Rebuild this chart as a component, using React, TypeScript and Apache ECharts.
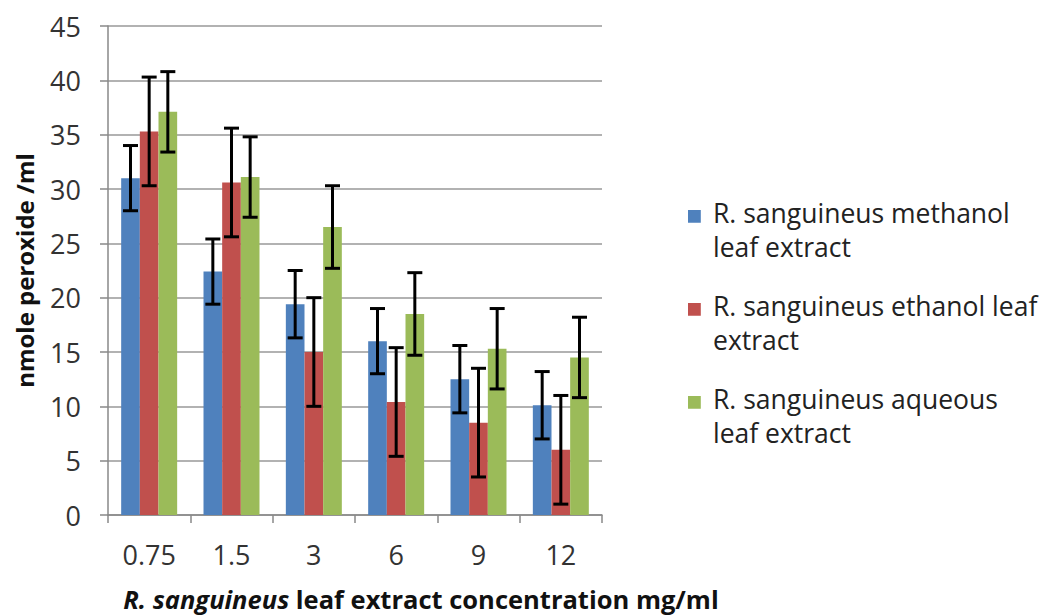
import React, { useEffect, useRef } from "react";
import * as echarts from "echarts";

const categories = ["0.75", "1.5", "3", "6", "9", "12"];
const seriesNames = [
  "R. sanguineus methanol\nleaf extract",
  "R. sanguineus ethanol leaf\nextract",
  "R. sanguineus aqueous\nleaf extract",
];
const methanolValues = [31.0, 22.4, 19.4, 16.0, 12.5, 10.1];
const ethanolValues = [35.3, 30.6, 15.0, 10.4, 8.5, 6.0];
const aqueousValues = [37.1, 31.1, 26.5, 18.5, 15.3, 14.5];
const methanolErrors = [3.0, 3.0, 3.1, 3.0, 3.1, 3.1];
const ethanolErrors = [5.0, 5.0, 5.0, 5.0, 5.0, 5.0];
const aqueousErrors = [3.7, 3.7, 3.8, 3.8, 3.7, 3.7];
const colors = ["#4F81BD", "#C0504D", "#9BBB59"];

const CAT_GAP = 0.32;

export default function App() {
  const ref = useRef<HTMLDivElement>(null);
  useEffect(() => {
    if (!ref.current) return;
    const chart = echarts.init(ref.current, null, { renderer: "svg" });
    const values = [methanolValues, ethanolValues, aqueousValues];
    const errors = [methanolErrors, ethanolErrors, aqueousErrors];
    const font = "'Open Sans', sans-serif";

    const barSeries = values.map((vals, i) => ({
      name: seriesNames[i],
      type: "bar",
      data: vals,
      barGap: "0%",
      barCategoryGap: CAT_GAP * 100 + "%",
      itemStyle: { color: colors[i] },
      z: 2,
    }));

    const errSeries = values.map((vals, si) => ({
      type: "custom",
      z: 5,
      data: vals.map((v, ci) => [ci, v, errors[si][ci]]),
      renderItem: (params: any, api: any) => {
        const ci = api.value(0);
        const v = api.value(1);
        const e = api.value(2);
        const base = api.coord([ci, v]);
        const w = api.size([1, 0])[0];
        const barW = (w * (1 - CAT_GAP)) / 3;
        const x = base[0] - 1.5 * barW + barW * (si + 0.5);
        const yTop = api.coord([ci, v + e])[1];
        const yBot = api.coord([ci, v - e])[1];
        const cap = 7.5;
        const style = { stroke: "#000", lineWidth: 3 };
        return {
          type: "group",
          children: [
            { type: "line", shape: { x1: x, y1: yTop, x2: x, y2: yBot }, style },
            { type: "line", shape: { x1: x - cap, y1: yTop, x2: x + cap, y2: yTop }, style },
            { type: "line", shape: { x1: x - cap, y1: yBot, x2: x + cap, y2: yBot }, style },
          ],
        };
      },
    }));

    const icon =
      "path://M0,0h0.01v0.01h-0.01z M24.99,0h0.01v0.01h-0.01z M0,9h16v16h-16z M0,68h0.01v0.01h-0.01z";

    chart.setOption({
      animation: false,
      backgroundColor: "#fff",
      textStyle: { fontFamily: font },
      grid: { left: 108, top: 26, right: 439, bottom: 101, outerBoundsMode: "none", containLabel: false },
      legend: {
        orient: "vertical",
        left: 688,
        top: 196,
        padding: 0,
        itemWidth: 20,
        itemHeight: 68,
        itemGap: 25,
        icon,
        data: seriesNames,
        textStyle: { fontFamily: font, fontSize: 26.5, lineHeight: 34, color: "#222" },
      },
      xAxis: {
        type: "category",
        data: categories,
        axisLine: { lineStyle: { color: "#888", width: 1.5 } },
        axisTick: { show: true, length: 8, lineStyle: { color: "#888", width: 1.5 } },
        axisLabel: { fontFamily: font, fontSize: 27, color: "#333", margin: 26 },
        name: "{i|R. sanguineus} leaf extract concentration mg/ml",
        nameLocation: "middle",
        nameGap: 71,
        nameTextStyle: {
          fontFamily: font,
          fontSize: 25.5,
          fontWeight: "bold",
          color: "#111",
          padding: [0, 0, 0, 132],
          rich: {
            i: { fontFamily: font, fontSize: 25.5, fontWeight: "bold", fontStyle: "italic", color: "#111" },
          },
        },
      },
      yAxis: {
        type: "value",
        min: 0,
        max: 45,
        interval: 5,
        axisLine: { show: true, lineStyle: { color: "#888", width: 1.5 } },
        axisTick: { show: true, length: 8, lineStyle: { color: "#888", width: 1.5 } },
        splitLine: { lineStyle: { color: "#999", width: 1.5 } },
        axisLabel: { fontFamily: font, fontSize: 27, color: "#333", margin: 27 },
        name: "nmole peroxide /ml",
        nameLocation: "middle",
        nameGap: 72,
        nameTextStyle: { fontFamily: font, fontSize: 24, fontWeight: "bold", color: "#111" },
      },
      series: [...barSeries, ...errSeries],
    });
    return () => chart.dispose();
  }, []);
  return (
    <div
      ref={ref}
      style={{ position: "fixed", left: 0, top: 0, width: 1041, height: 616 }}
    />
  );
}
